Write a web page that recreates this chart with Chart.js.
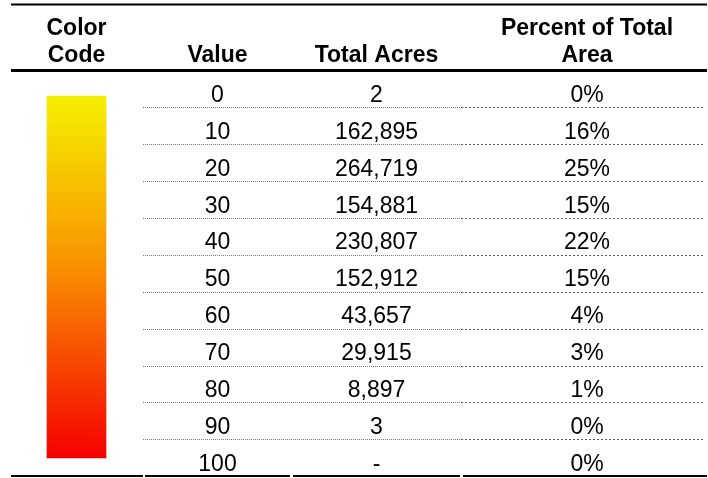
<!DOCTYPE html>
<html>
<head>
<meta charset="utf-8">
<script src="https://cdn.jsdelivr.net/npm/chart.js@4/dist/chart.umd.min.js"></script>
<style>
  body { margin: 0; background: #fff; }
  #wrap { width: 708px; height: 478px; }
</style>
</head>
<body>
<div id="wrap"><canvas id="myChart" width="708" height="478"></canvas></div>
<script>
// table data
const headers = [['Color', 'Code'], ['Value'], ['Total Acres'], ['Percent of Total', 'Area']];
const values = [0, 10, 20, 30, 40, 50, 60, 70, 80, 90, 100];
const totalAcres = [2, 162895, 264719, 154881, 230807, 152912, 43657, 29915, 8897, 3, null];
const percents = [0, 16, 25, 15, 22, 15, 4, 3, 1, 0, 0];
const colorRange = [0.04, 9.85]; // colour bar, in row units

// layout (x in px on a 0..708 axis, y in row units)
const colEdges = [[11, 143], [145, 290], [293, 460], [463, 707]];
const colCenters = [76.5, 217.5, 376.5, 587];
const headerRows = [-1.78, -1.06];
const topLineY = -2.44;
const headLineY = -0.65;
const bottomLineY = 10.34;
const rowLineOffset = 0.345;

function fmtAcres(v) {
    return v == null ? '-' : v.toLocaleString('en-US');
}

const tablePlugin = {
    id: 'table',
    beforeDatasetsDraw(chart) {
        const ctx = chart.ctx;
        const x = chart.scales.x, y = chart.scales.y;
        ctx.save();
        ctx.strokeStyle = '#000';
        // top rule
        ctx.lineWidth = 2;
        ctx.beginPath();
        ctx.moveTo(x.getPixelForValue(colEdges[0][0]), y.getPixelForValue(topLineY));
        ctx.lineTo(x.getPixelForValue(colEdges[3][1]), y.getPixelForValue(topLineY));
        ctx.stroke();
        // header rule
        ctx.lineWidth = 3;
        ctx.beginPath();
        ctx.moveTo(x.getPixelForValue(colEdges[0][0]), y.getPixelForValue(headLineY));
        ctx.lineTo(x.getPixelForValue(colEdges[3][1]), y.getPixelForValue(headLineY));
        ctx.stroke();
        // bottom rule, per column
        ctx.lineWidth = 2;
        colEdges.forEach(e => {
            ctx.beginPath();
            ctx.moveTo(x.getPixelForValue(e[0]), y.getPixelForValue(bottomLineY));
            ctx.lineTo(x.getPixelForValue(e[1]), y.getPixelForValue(bottomLineY));
            ctx.stroke();
        });
        // dotted row lines
        ctx.lineWidth = 1;
        for (let i = 0; i < values.length - 1; i++) {
            const py = Math.round(y.getPixelForValue(i + rowLineOffset)) + 0.5;
            ctx.setLineDash([1, 1]);
            ctx.strokeStyle = '#7a7a7a';
            ctx.beginPath();
            ctx.moveTo(x.getPixelForValue(colEdges[1][0] - 2), py);
            ctx.lineTo(x.getPixelForValue(colEdges[2][1]), py);
            ctx.stroke();
            ctx.setLineDash([2, 2]);
            ctx.strokeStyle = '#555';
            ctx.beginPath();
            ctx.moveTo(x.getPixelForValue(colEdges[3][0] - 2), py);
            ctx.lineTo(x.getPixelForValue(colEdges[3][1] - 4), py);
            ctx.stroke();
        }
        ctx.restore();
    },
    afterDatasetsDraw(chart) {
        const ctx = chart.ctx;
        const x = chart.scales.x, y = chart.scales.y;
        ctx.save();
        ctx.fillStyle = '#000';
        ctx.textAlign = 'center';
        ctx.textBaseline = 'middle';
        ctx.font = 'bold 23px "Liberation Sans", Arial, sans-serif';
        headers.forEach((lines, c) => {
            const start = headerRows.length - lines.length;
            lines.forEach((t, k) => {
                ctx.fillText(t, x.getPixelForValue(colCenters[c]), y.getPixelForValue(headerRows[start + k]));
            });
        });
        ctx.font = '23px "Liberation Sans", Arial, sans-serif';
        values.forEach((v, i) => {
            const py = y.getPixelForValue(i) + 1;
            ctx.fillText(String(v), x.getPixelForValue(colCenters[1]), py);
            ctx.fillText(fmtAcres(totalAcres[i]), x.getPixelForValue(colCenters[2]), py);
            ctx.fillText(percents[i] + '%', x.getPixelForValue(colCenters[3]), py);
        });
        ctx.restore();
    }
};

function barGradient(context) {
    const chart = context.chart;
    if (!chart.chartArea) return '#f5a000';
    const y = chart.scales.y;
    const g = chart.ctx.createLinearGradient(0, y.getPixelForValue(colorRange[0]), 0, y.getPixelForValue(colorRange[1]));
    g.addColorStop(0, 'rgb(245,240,0)');
    g.addColorStop(0.45, 'rgb(250,150,0)');
    g.addColorStop(1, 'rgb(245,0,0)');
    return g;
}

const unit = 36.9;
const yMin = -94.5 / unit;
const yMax = yMin + 478 / unit;

new Chart(document.getElementById('myChart').getContext('2d'), {
    type: 'bar',
    data: {
        datasets: [{
            label: 'Color Code',
            data: [{ x: colCenters[0], y: colorRange }],
            backgroundColor: barGradient,
            borderWidth: 0,
            barThickness: 59
        }]
    },
    options: {
        responsive: false,
        animation: false,
        layout: { padding: 0 },
        plugins: { legend: { display: false }, tooltip: { enabled: false } },
        scales: {
            x: { type: 'linear', display: false, offset: false, min: 0, max: 708 },
            y: { type: 'linear', display: false, offset: false, reverse: true, min: yMin, max: yMax }
        }
    },
    plugins: [tablePlugin]
});
</script>
</body>
</html>
